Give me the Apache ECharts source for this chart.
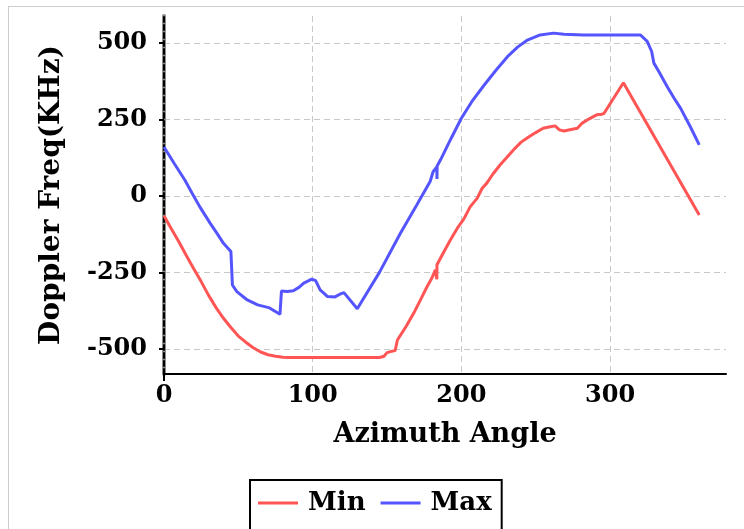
<!DOCTYPE html>
<html>
<head>
<meta charset="utf-8">
<script src="https://cdn.jsdelivr.net/npm/echarts@6/dist/echarts.min.js"></script>
<style>
html,body{margin:0;padding:0;background:#fff;}
#chart{width:744px;height:529px;}
</style>
</head>
<body>
<div id="chart"></div>
<script>
// ---- data ----
var xTicks = [0, 100, 200, 300];
var yTicks = [-500, -250, 0, 250, 500];

var minAz  = [0,5,10,15,20,25,30,35,40,45,50,55,60,65,70,75,80,85,145,148,150,153,155.5,157,163,168,173,177,180,182.5,183.5,183.6,188,192.6,198,201.6,206,210.6,214,217,221,226,231,235,240,245,250,255,259,263,266,269,273,278,281,286,291,294.6,296,309,360];
var minVal = [-65,-108,-150,-195,-238,-280,-325,-365,-400,-430,-458,-478,-496,-510,-519,-524,-527,-528,-528,-524,-512,-508,-505,-471,-425,-383,-335,-296,-270,-242,-272,-225,-185,-144,-100,-76,-35,-8,25,41,70,101,128,150,175,192,207,221,225,229,216,212,216,221,237,252,265,267,270,370,-62];

var maxAz  = [0,7,14,19,24,31,36,40,45,46,49,56,63,71,78,79,83,87,91,94,99.4,102,105,108,110,115,118,121,130,145,159,170,179,181,183.5,183.6,183.7,186,193,200,207,215,223,231,238,244,253,262,269,282,307,320.5,325,328,329.5,333,338.5,343,347.5,354,360];
var maxVal = [160,105,52,8,-35,-89,-125,-155,-182,-291,-313,-340,-356,-366,-387,-311,-312,-310,-298,-285,-272,-277,-307,-320,-329,-330,-322,-316,-369,-249,-122,-30,47,79,95,55,98,118,187,254,308,360,409,455,487,508,526,532,528,526,526,526,505,472,434,405,357,320,286,226,167];

function pairs(xs, ys){ var out=[]; for(var i=0;i<xs.length;i++){ out.push([xs[i], ys[i]]); } return out; }

var FONT = 'DejaVu Serif';
var chart = echarts.init(document.getElementById('chart'), null, {renderer:'canvas'});
chart.setOption({
  animation: false,
  backgroundColor: '#fff',
  grid: { left: 164, top: 16, right: 18, bottom: 155, containLabel: false },
  graphic: [
    { type: 'rect', shape: { x: 8.5, y: 6.5, width: 800, height: 600 },
      style: { fill: 'none', stroke: '#999', lineWidth: 1, lineDash: [1, 1] }, z: 0 },
    { type: 'line', shape: { x1: 164, y1: 374, x2: 164, y2: 381 },
      style: { stroke: '#000', lineWidth: 2 }, z: 10 }
  ],
  legend: {
    left: 250, top: 480,
    orient: 'horizontal',
    borderColor: '#000', borderWidth: 2,
    padding: [10, 10, 14, 8],
    itemWidth: 40, itemHeight: 3, itemGap: 15,
    textStyle: { fontFamily: FONT, fontWeight: 'bold', fontSize: 26, color: '#000', padding: [0, 0, 0, 5] },
    data: [ { name: 'Min', icon: 'rect' }, { name: 'Max', icon: 'rect' } ]
  },
  xAxis: {
    type: 'value', min: 0, max: 378,
    name: 'Azimuth Angle', nameLocation: 'middle', nameGap: 47,
    nameTextStyle: { fontFamily: FONT, fontWeight: 'bold', fontSize: 27, color: '#000' },
    axisLine: { onZero: false, lineStyle: { color: '#000', width: 2 } },
    axisTick: { show: false, customValues: xTicks },
    axisLabel: { customValues: xTicks, margin: 10, fontFamily: FONT, fontWeight: 'bold', fontSize: 24, color: '#000' },
    splitLine: { show: true, lineStyle: { color: '#c8c8c8', width: 1, type: [6, 4] } }
  },
  yAxis: [
    {
      type: 'value', min: -582, max: 588, position: 'left',
      name: 'Doppler Freq(KHz)', nameLocation: 'middle', nameGap: 98, nameRotate: 90,
      nameTextStyle: { fontFamily: FONT, fontWeight: 'bold', fontSize: 28, color: '#000' },
      axisLine: { show: true, onZero: false, lineStyle: { color: '#8c8c8c', width: 4 } },
      axisTick: { show: true, customValues: yTicks, length: 5, lineStyle: { color: '#000', width: 2 } },
      axisLabel: { customValues: yTicks, margin: 17, fontFamily: FONT, fontWeight: 'bold', fontSize: 24, color: '#000' },
      splitLine: { show: true, lineStyle: { color: '#c8c8c8', width: 1, type: [6, 4] } }
    },
    {
      type: 'value', min: -582, max: 588, position: 'left', offset: 0,
      axisLine: { show: true, onZero: false, lineStyle: { color: '#000', width: 2, type: [5, 3] } },
      axisTick: { show: false }, axisLabel: { show: false }, splitLine: { show: false }
    }
  ],
  series: [
    { name: 'Min', type: 'line', yAxisIndex: 0, showSymbol: false, symbol: 'none',
      data: pairs(minAz, minVal), lineStyle: { color: '#ff5555', width: 3 }, itemStyle: { color: '#ff5555' } },
    { name: 'Max', type: 'line', yAxisIndex: 0, showSymbol: false, symbol: 'none',
      data: pairs(maxAz, maxVal), lineStyle: { color: '#5555ff', width: 3 }, itemStyle: { color: '#5555ff' } }
  ]
});
</script>
</body>
</html>
